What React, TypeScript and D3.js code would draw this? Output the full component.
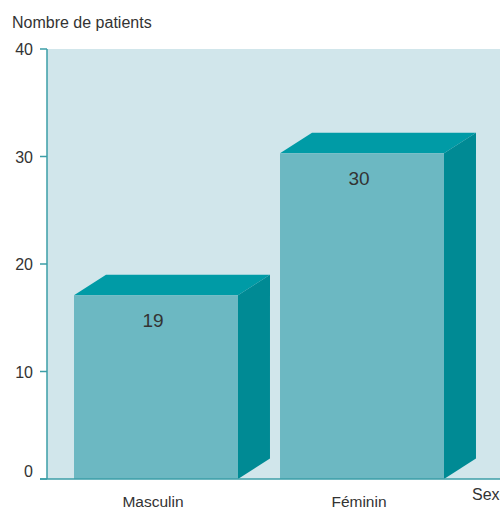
import React from "react";
import * as d3 from "d3";

const categories = ["Masculin", "Féminin"];
const valueLabels = ["19", "30"];
// bar front-face heights as drawn in the picture
const barHeights = [17.1, 30.3];
const yTicks = [0, 10, 20, 30, 40];
const yTitle = "Nombre de patients";
const xTitle = "Sexe";

const W = 500;
const H = 508;

export default function App() {
  const y = d3.scaleLinear().domain([0, 40]).range([479, 49]);
  const x = d3
    .scaleBand<string>()
    .domain(categories)
    .range([53, 465])
    .paddingInner(0.204)
    .paddingOuter(0.102);
  const dx = 32;
  const dy = 20.5;
  const axisX = 47;
  const font = "'Liberation Sans', Arial, sans-serif";
  const bw = x.bandwidth();

  return (
    <svg
      width={W}
      height={H}
      style={{ position: "absolute", left: 0, top: 0 }}
      fontFamily={font}
    >
      <rect x={axisX} y={y(40)} width={W - axisX} height={y(0) - y(40)} fill="#d1e6eb" />
      {categories.map((c, i) => {
        const x0 = x(c)!;
        const x1 = x0 + bw;
        const yt = y(barHeights[i]);
        const yb = y(0);
        return (
          <g key={c}>
            <polygon
              points={`${x0},${yt} ${x0 + dx},${yt - dy} ${x1 + dx},${yt - dy} ${x1},${yt}`}
              fill="#009ba6"
            />
            <polygon
              points={`${x1},${yt} ${x1 + dx},${yt - dy} ${x1 + dx},${yb - dy} ${x1},${yb}`}
              fill="#008a94"
            />
            <rect x={x0} y={yt} width={bw} height={yb - yt} fill="#6cb8c2" />
            <text
              x={x0 + bw / 2 - 3}
              y={yt + 32}
              textAnchor="middle"
              fontSize={19}
              fill="#333"
            >
              {valueLabels[i]}
            </text>
            <text
              x={x0 + bw / 2 - 3}
              y={507}
              textAnchor="middle"
              fontSize={15.5}
              fill="#333"
            >
              {c}
            </text>
          </g>
        );
      })}
      <line x1={axisX} x2={axisX} y1={y(40)} y2={y(0)} stroke="#3b9ea7" strokeWidth={1.5} />
      <line x1={40} x2={W} y1={y(0)} y2={y(0)} stroke="#3b9ea7" strokeWidth={1.5} />
      {yTicks.map((t) => (
        <g key={t}>
          <line x1={40} x2={axisX} y1={y(t)} y2={y(t)} stroke="#3b9ea7" strokeWidth={1.5} />
          <text
            x={33}
            y={t === 0 ? y(t) - 2 : y(t) + 6}
            textAnchor="end"
            fontSize={16}
            fill="#333"
          >
            {t}
          </text>
        </g>
      ))}
      <text x={12} y={28} fontSize={16} fill="#333">
        {yTitle}
      </text>
      <text x={472} y={500} fontSize={16} fill="#333">
        {xTitle}
      </text>
    </svg>
  );
}
